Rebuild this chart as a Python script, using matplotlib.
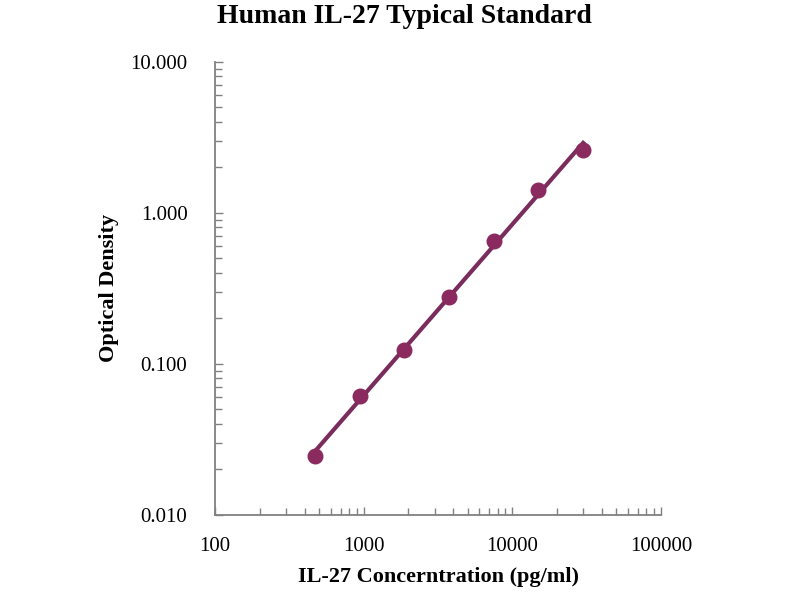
import numpy as np
import matplotlib
matplotlib.use('Agg')
import matplotlib.pyplot as plt
from matplotlib.ticker import FixedLocator, LogLocator, NullFormatter

plt.rcParams['font.family'] = ['Liberation Serif', 'DejaVu Serif']

# standard curve data
conc = [468.75, 937.5, 1875, 3750, 7500, 15000, 30000]
od = [0.0244, 0.061, 0.124, 0.277, 0.652, 1.41, 2.61]

x_ticks = [100, 1000, 10000, 100000]
x_labels = ['100', '1000', '10000', '100000']
y_ticks = [0.01, 0.1, 1, 10]
y_labels = ['0.010', '0.100', '1.000', '10.000']

color = '#8a2a5f'

fig = plt.figure(figsize=(8, 6), dpi=100)
ax = fig.add_axes([0.269, 0.142, 0.557, 0.755])

# power trendline through the standards
k, b = np.polyfit(np.log10(conc), np.log10(od), 1)
fx = np.array([conc[0], conc[-1]])
ax.plot(fx, 10 ** (k * np.log10(fx) + b), color='#7a2c5c', lw=3, zorder=2)
ax.scatter(conc, od, s=110, color=color, zorder=3)

ax.set_xscale('log')
ax.set_yscale('log')
ax.set_xlim(100, 100000)
ax.set_ylim(0.01, 10)
ax.xaxis.set_major_locator(FixedLocator(x_ticks))
ax.set_xticklabels(x_labels)
ax.yaxis.set_major_locator(FixedLocator(y_ticks))
ax.set_yticklabels(y_labels)
ax.xaxis.set_minor_locator(LogLocator(base=10, subs=np.arange(2, 10)))
ax.yaxis.set_minor_locator(LogLocator(base=10, subs=np.arange(2, 10)))
ax.xaxis.set_minor_formatter(NullFormatter())
ax.yaxis.set_minor_formatter(NullFormatter())

for s in ['top', 'right']:
    ax.spines[s].set_visible(False)
for s in ['left', 'bottom']:
    ax.spines[s].set_color('#808080')
    ax.spines[s].set_linewidth(1.3)

ax.tick_params(which='both', direction='in', color='#808080', width=1, labelsize=15)
ax.tick_params(which='major', length=6)
ax.tick_params(which='minor', length=5)
ax.tick_params(axis='x', pad=16)
ax.tick_params(axis='y', pad=20)

fig.text(0.506, 0.972, 'Human IL-27 Typical Standard', ha='center', va='center',
         fontsize=20, fontweight='bold')
ax.set_xlabel('IL-27 Concerntration (pg/ml)', fontsize=16, fontweight='bold', labelpad=8)
ax.set_ylabel('Optical Density', fontsize=16, fontweight='bold', labelpad=8)

plt.savefig('out.png', dpi=100)
